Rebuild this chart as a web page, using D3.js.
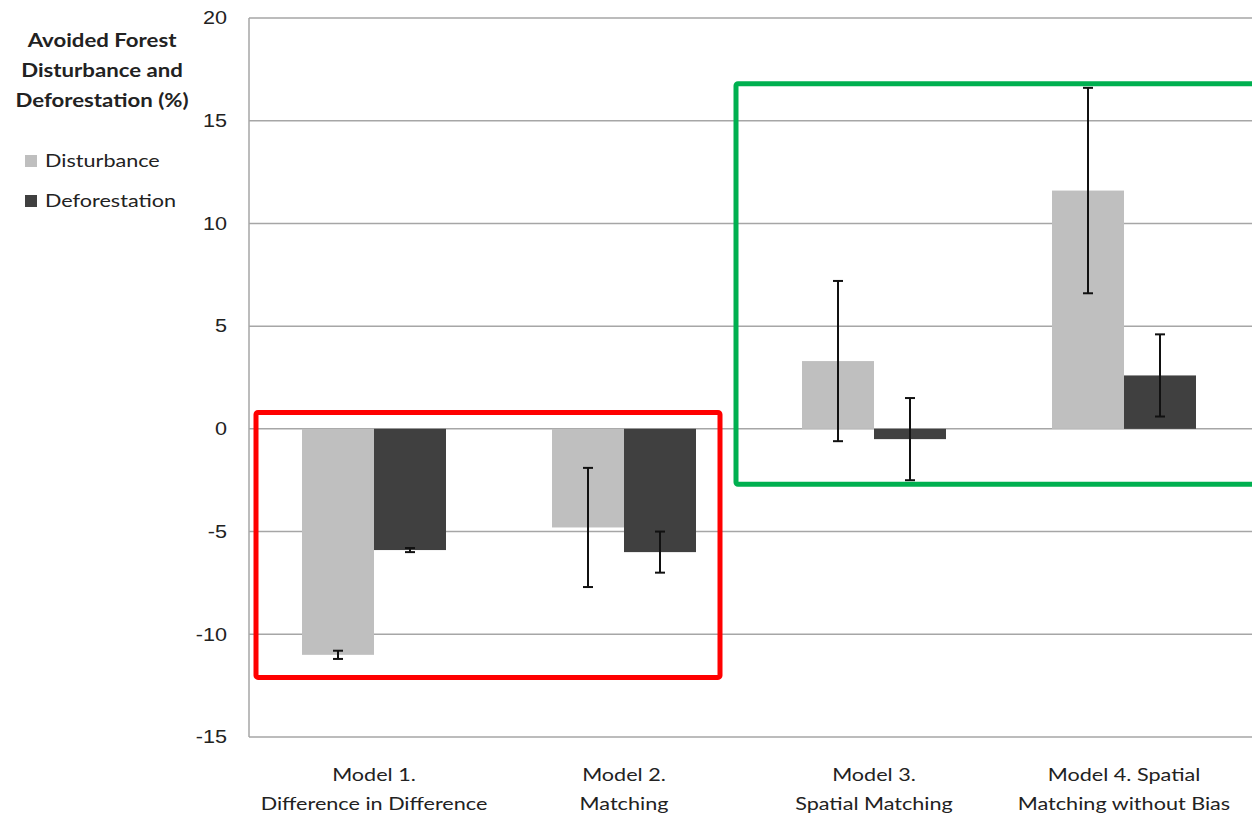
<!DOCTYPE html>
<html lang="en">
<head>
  <meta charset="UTF-8">
  <title>Avoided Forest Disturbance and Deforestation</title>
  <style>
    body { margin: 0; background: #fff; }
    svg { display: block; font-family: Lato, "Open Sans", sans-serif; }
    .tick text { font-size: 18px; fill: #222; }
  </style>
</head>
<body>
  <svg id="chart" width="1252" height="818"></svg>

  <script src="https://d3js.org/d3.v7.min.js"></script>
  <script>
    // Data
    const models = ['Model 1', 'Model 2', 'Model 3', 'Model 4'];
    const modelLabels = [
      ['Model 1.', 'Difference in Difference'],
      ['Model 2.', 'Matching'],
      ['Model 3.', 'Spatial Matching'],
      ['Model 4. Spatial', 'Matching without Bias']
    ];
    const series = ['Disturbance', 'Deforestation'];
    const disturbance = [-11.0, -4.8, 3.3, 11.6];
    const disturbanceErr = [0.2, 2.9, 3.9, 5.0];
    const deforestation = [-5.9, -6.0, -0.5, 2.6];
    const deforestationErr = [0.1, 1.0, 2.0, 2.0];
    const yTicks = [-15, -10, -5, 0, 5, 10, 15, 20];
    const legendTitle = ['Avoided Forest', 'Disturbance and', 'Deforestation (%)'];

    // highlight boxes drawn over the chart
    const boxes = [
      { from: 'Model 1', to: 'Model 2', top: 0.8, bottom: -12.1, color: '#ff0000' },
      { from: 'Model 3', to: 'Model 4', top: 16.8, bottom: -2.7, color: '#00b050' }
    ];

    const colors = { Disturbance: '#bfbfbf', Deforestation: '#404040' };

    const W = 1252, H = 818;
    const margin = { top: 18, right: 3, bottom: 81, left: 249 };
    const stretch = 'scale(1.2,1)'; // the source figure's text is a bit wide
    const svg = d3.select('#chart');

    const x = d3.scaleBand().domain(models).range([margin.left, W - margin.right]);
    const y = d3.scaleLinear().domain([-15, 20]).range([H - margin.bottom, margin.top]);
    const barW = x.bandwidth() * 0.288;
    const xs = d3.scaleBand().domain(series)
      .range([x.bandwidth() / 2 - barW, x.bandwidth() / 2 + barW]);

    // put a text at (tx, ty) and stretch it sideways
    function label(g, tx, ty, str, anchor) {
      return g.append('g')
        .attr('transform', `translate(${tx},${ty})`)
        .append('text')
        .attr('transform', stretch)
        .attr('text-anchor', anchor || 'start')
        .text(str);
    }

    // gridlines
    svg.append('g')
      .selectAll('line')
      .data(yTicks)
      .join('line')
      .attr('x1', margin.left)
      .attr('x2', W)
      .attr('y1', d => y(d))
      .attr('y2', d => y(d))
      .attr('stroke', '#a6a6a6')
      .attr('stroke-width', 1.5);

    // left axis line
    svg.append('line')
      .attr('x1', margin.left).attr('x2', margin.left)
      .attr('y1', y(20)).attr('y2', y(-15))
      .attr('stroke', '#a6a6a6').attr('stroke-width', 1.5);

    const yAxis = svg.append('g')
      .attr('transform', `translate(${margin.left - 22},0)`)
      .call(d3.axisLeft(y).tickValues(yTicks).tickSize(0).tickPadding(0)
        .tickFormat(d => String(d)));
    yAxis.select('.domain').remove();
    yAxis.selectAll('text').attr('x', 0).attr('transform', stretch);

    // rows: one per (model, series)
    const rows = [];
    models.forEach((m, i) => {
      rows.push({ model: m, s: 'Disturbance', v: disturbance[i], e: disturbanceErr[i] });
      rows.push({ model: m, s: 'Deforestation', v: deforestation[i], e: deforestationErr[i] });
    });

    svg.append('g')
      .selectAll('rect')
      .data(rows)
      .join('rect')
      .attr('x', d => x(d.model) + xs(d.s))
      .attr('width', xs.bandwidth())
      .attr('y', d => y(Math.max(0, d.v)))
      .attr('height', d => Math.abs(y(d.v) - y(0)))
      .attr('fill', d => colors[d.s]);

    // error bars
    const err = svg.append('g')
      .attr('stroke', '#111')
      .attr('stroke-width', 2);
    const cx = d => x(d.model) + xs(d.s) + xs.bandwidth() / 2;
    err.selectAll('.stem')
      .data(rows)
      .join('line')
      .attr('x1', cx).attr('x2', cx)
      .attr('y1', d => y(d.v + d.e))
      .attr('y2', d => y(d.v - d.e));
    err.selectAll('.cap')
      .data(rows.flatMap(d => [{ ...d, at: d.v + d.e }, { ...d, at: d.v - d.e }]))
      .join('line')
      .attr('x1', d => cx(d) - 5).attr('x2', d => cx(d) + 5)
      .attr('y1', d => y(d.at)).attr('y2', d => y(d.at));

    // x labels
    const xl = svg.append('g')
      .attr('font-size', 18)
      .attr('fill', '#222');
    models.forEach((m, i) => {
      modelLabels[i].forEach((t, j) => {
        label(xl, x(m) + x.bandwidth() / 2, 781 + j * 29, t, 'middle');
      });
    });

    // legend
    const lg = svg.append('g').attr('fill', '#222');
    const lt = lg.append('g').attr('font-size', 18.5).attr('font-weight', 'bold');
    legendTitle.forEach((t, i) => label(lt, 102, 47 + i * 30, t, 'middle'));
    series.forEach((s, i) => {
      lg.append('rect')
        .attr('x', 25).attr('y', 155 + i * 40)
        .attr('width', 12).attr('height', 12)
        .attr('fill', colors[s]);
      label(lg, 45, 167 + i * 40, s).attr('font-size', 18);
    });

    // highlight boxes
    const boxInset = { left: 7, right: 29 };
    svg.append('g')
      .selectAll('rect')
      .data(boxes)
      .join('rect')
      .attr('x', d => d.from === 'Model 1' ? x(d.from) + boxInset.left : x(d.from) - 13)
      .attr('width', d => d.from === 'Model 1'
        ? x(d.to) + x.bandwidth() - boxInset.right - (x(d.from) + boxInset.left)
        : W + 10 - (x(d.from) - 13))
      .attr('y', d => y(d.top))
      .attr('height', d => y(d.bottom) - y(d.top))
      .attr('rx', 2)
      .attr('fill', 'none')
      .attr('stroke', d => d.color)
      .attr('stroke-width', 5);
  </script>
</body>
</html>
